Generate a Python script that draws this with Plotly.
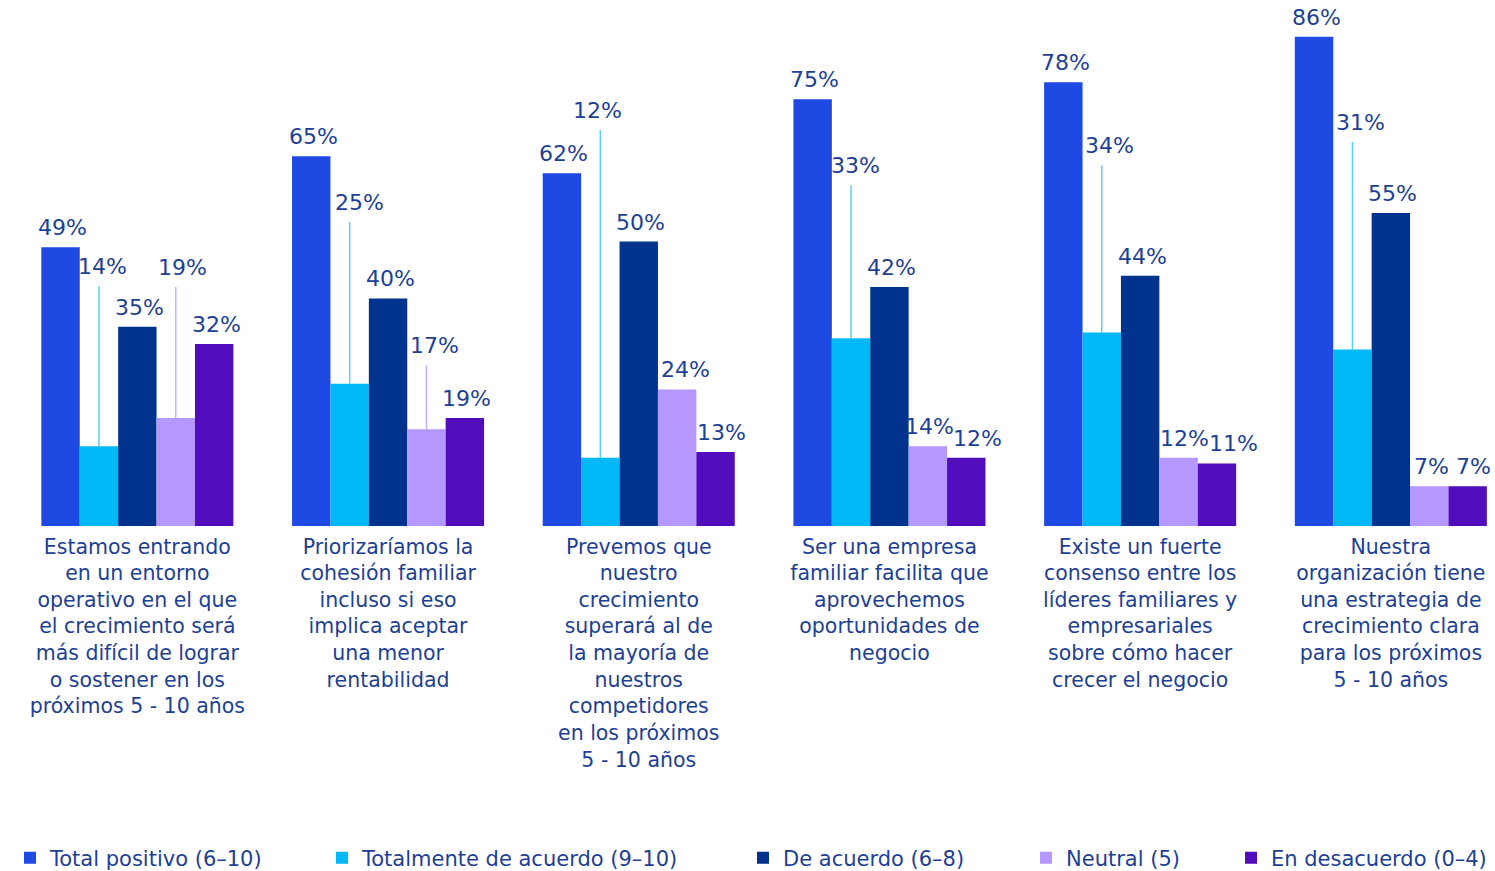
import plotly.graph_objects as go

# ---------------- data ----------------
categories = [
    "Estamos entrando<br>en un entorno<br>operativo en el que<br>el crecimiento será<br>más difícil de lograr<br>o sostener en los<br>próximos 5 - 10 años",
    "Priorizaríamos la<br>cohesión familiar<br>incluso si eso<br>implica aceptar<br>una menor<br>rentabilidad",
    "Prevemos que<br>nuestro<br>crecimiento<br>superará al de<br>la mayoría de<br>nuestros<br>competidores<br>en los próximos<br>5 - 10 años",
    "Ser una empresa<br>familiar facilita que<br>aprovechemos<br>oportunidades de<br>negocio",
    "Existe un fuerte<br>consenso entre los<br>líderes familiares y<br>empresariales<br>sobre cómo hacer<br>crecer el negocio",
    "Nuestra<br>organización tiene<br>una estrategia de<br>crecimiento clara<br>para los próximos<br>5 - 10 años",
]
series_names = [
    "Total positivo (6–10)",
    "Totalmente de acuerdo (9–10)",
    "De acuerdo (6–8)",
    "Neutral (5)",
    "En desacuerdo (0–4)",
]
total_positivo = [49, 65, 62, 75, 78, 86]
totalmente_de_acuerdo = [14, 25, 12, 33, 34, 31]
de_acuerdo = [35, 40, 50, 42, 44, 55]
neutral = [19, 17, 24, 14, 12, 7]
en_desacuerdo = [32, 19, 13, 12, 11, 7]
series_values = [total_positivo, totalmente_de_acuerdo, de_acuerdo, neutral, en_desacuerdo]

# ---------------- style / layout ----------------
colors = ["#1E49E2", "#00B8F5", "#00338D", "#B497FF", "#510DBC"]
leader_colors = {1: "#5CCFF5", 3: "#C6B0FF"}
text_color = "#1D3F94"
FONT = "DejaVu Sans"
# labels lifted above the bars (series index, group index) -> level of leader line top (in %)
lifted = {
    (1, 0): 42.2, (3, 0): 42.0,
    (1, 1): 53.4, (3, 1): 28.3,
    (1, 2): 69.6,
    (1, 3): 59.9,
    (1, 4): 63.4,
    (1, 5): 67.5,
}
# extra horizontal nudges of value labels in px (series index, group index)
label_nudge = {
    (1, 0): 2, (3, 0): 5, (1, 1): 8, (3, 1): 6, (1, 2): -5, (1, 3): 2,
    (1, 4): 6, (1, 5): 6, (3, 2): 6, (4, 2): 4, (4, 3): 9, (4, 4): 15,
    (3, 4): 4, (4, 5): 4,
}
bargap = 0.234
n_series = len(series_names)
group_w = 1 - bargap
bar_w = group_w / n_series

fig = go.Figure()
legend_left_px = [24, 336, 757, 1040, 1245]
ML, W, H, PLOT_H = 12, 1495, 871, 526
plot_w = W - ML

for i, (name, vals) in enumerate(zip(series_names, series_values)):
    fig.add_trace(go.Bar(
        x=categories, y=vals, name=name, marker=dict(color=colors[i], line=dict(width=0)),
        legend="legend" if i == 0 else f"legend{i+1}",
    ))

annotations = []
shapes = []
for i, vals in enumerate(series_values):
    for g, v in enumerate(vals):
        xc = g - group_w / 2 + (i + 0.5) * bar_w
        top = v
        if (i, g) in lifted:
            top = lifted[(i, g)]
            shapes.append(dict(type="line", xref="x", yref="y", x0=xc, x1=xc, y0=v, y1=top,
                               line=dict(color=leader_colors[i], width=1.5), layer="below"))
        annotations.append(dict(x=xc, y=top, xref="x", yref="y", text=f"{v}%", showarrow=False,
                                yanchor="bottom", xanchor="center", yshift=5,
                                xshift=2 + label_nudge.get((i, g), 0),
                                font=dict(family=FONT, size=22, color=text_color)))

layout_legends = {}
for i in range(n_series):
    key = "legend" if i == 0 else f"legend{i+1}"
    layout_legends[key] = dict(
        x=(legend_left_px[i] - 14 - ML) / plot_w, xanchor="left",
        y=(PLOT_H - 858) / PLOT_H, yanchor="middle",
        orientation="h", bgcolor="rgba(0,0,0,0)",
        font=dict(family=FONT, size=21, color=text_color),
        itemclick=False, itemdoubleclick=False,
    )

fig.update_layout(
    width=W, height=H,
    margin=dict(l=ML, r=0, t=0, b=H - PLOT_H, autoexpand=False),
    paper_bgcolor="white", plot_bgcolor="white",
    barmode="group", bargap=bargap, bargroupgap=0,
    showlegend=True,
    annotations=annotations, shapes=shapes,
    xaxis=dict(range=[-0.5, -0.5 + (W - ML) / 250.7], showgrid=False, zeroline=False,
               showline=False, ticks="", tickfont=dict(family=FONT, size=20.5, color=text_color),
               ticklabelstandoff=6),
    yaxis=dict(range=[0, PLOT_H / 5.69], visible=False, fixedrange=True),
    font=dict(family=FONT, color=text_color),
    **layout_legends,
)

fig.write_html("out.html")
